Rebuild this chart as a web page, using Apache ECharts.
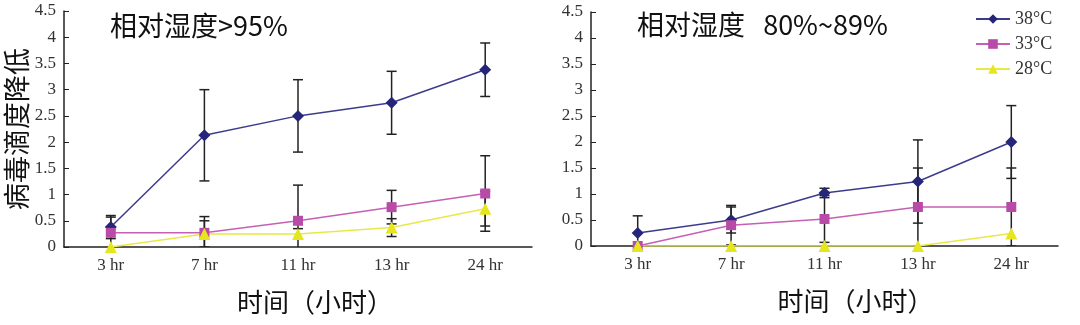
<!DOCTYPE html>
<html><head><meta charset="utf-8">
<script src="https://cdn.jsdelivr.net/npm/echarts@6/dist/echarts.min.js"></script>
<style>html,body{margin:0;padding:0;background:#fff}#c{width:1080px;height:325px}</style>
</head><body><div id="c"></div>
<script>
const categories = ['3 hr', '7 hr', '11 hr', '13 hr', '24 hr'];
const yTicks = [0, 0.5, 1, 1.5, 2, 2.5, 3, 3.5, 4, 4.5];
const seriesNames = ['38°C', '33°C', '28°C'];
const titleLeft = '相对湿度>95%';
const titleRight = '相对湿度   80%~89%';
const yName = '病毒滴度降低';
const xName = '时间（小时）';

// Left panel (RH > 95%)
const left38 = [0.38, 2.13, 2.5, 2.75, 3.38];
const left38Err = [0.22, 0.87, 0.69, 0.6, 0.51];
const left33 = [0.27, 0.27, 0.5, 0.76, 1.02];
const left33Err = [0.3, 0.31, 0.68, 0.32, 0.72];
const left28 = [0, 0.25, 0.25, 0.37, 0.73];
const left28Err = [0, 0.25, 0.1, 0.17, 0.33];

// Right panel (RH 80%~89%)
const right38 = [0.25, 0.5, 1.02, 1.24, 2.0];
const right38Err = [0.33, 0.25, 0.09, 0.8, 0.7];
const right33 = [0, 0.4, 0.52, 0.75, 0.75];
const right33Err = [0, 0.38, 0.45, 0.75, 0.75];
const right28 = [0, 0, 0, 0, 0.24];
const right28Err = [0, 0, 0, 0, 0];

const colors = ['#25257a', '#b84aa8', '#e6e61e'];
const lineColors = ['#3c3c8c', '#c560b5', '#e8e84a'];
const symbols = ['diamond', 'rect', 'triangle'];
const symbolSizes = [12, 10, 12];

const serif = '"Liberation Serif", "DejaVu Serif", serif';
const cjk = '"Noto Sans CJK SC", "Noto Sans", sans-serif';

function lineSeries(idx, grid, data) {
  return {
    name: seriesNames[idx], type: 'line', xAxisIndex: grid, yAxisIndex: grid,
    data: data, symbol: symbols[idx], symbolSize: symbolSizes[idx],
    itemStyle: { color: colors[idx] },
    lineStyle: { color: lineColors[idx], width: 1.5 },
    z: 5, animation: false
  };
}
function errSeries(grid, vals, errs) {
  const d = vals.map((v, i) => [i, v - errs[i], v + errs[i]]).filter(r => r[2] - r[1] > 0);
  return {
    type: 'custom', xAxisIndex: grid, yAxisIndex: grid, data: d, z: 3, clip: true, silent: true,
    renderItem: function (params, api) {
      const x = api.value(0);
      const lo = api.coord([x, api.value(1)]);
      const hi = api.coord([x, api.value(2)]);
      const hw = 5;
      const st = { stroke: '#222', lineWidth: 1.5 };
      return { type: 'group', children: [
        { type: 'line', shape: { x1: lo[0], y1: lo[1], x2: hi[0], y2: hi[1] }, style: st },
        { type: 'line', shape: { x1: hi[0] - hw, y1: hi[1], x2: hi[0] + hw, y2: hi[1] }, style: st },
        { type: 'line', shape: { x1: lo[0] - hw, y1: lo[1], x2: lo[0] + hw, y2: lo[1] }, style: st }
      ]};
    },
    animation: false
  };
}
function xAxis(grid, shift) {
  return {
    type: 'category', gridIndex: grid, data: categories, boundaryGap: true,
    axisLine: { lineStyle: { color: '#222', width: 1.5 } },
    axisTick: { inside: true, length: 5, lineStyle: { color: '#222' } },
    axisLabel: { fontFamily: serif, fontSize: 17, color: '#333', margin: 10 },
    name: xName, nameLocation: 'middle', nameGap: 42,
    nameTextStyle: { fontFamily: cjk, fontSize: 26, color: '#111', padding: [0, 0, 0, shift] }
  };
}
function yAxis(grid, withName) {
  return {
    type: 'value', gridIndex: grid, min: 0, max: 4.5, interval: 0.5,
    axisLine: { show: true, lineStyle: { color: '#222', width: 1.5 } },
    axisTick: { show: true, inside: true, length: 5, lineStyle: { color: '#222' } },
    splitLine: { show: false },
    axisLabel: { fontFamily: serif, fontSize: 17, color: '#333', margin: 8,
      formatter: v => String(yTicks.find(t => Math.abs(t - v) < 1e-9) ?? v) },
    name: withName ? yName : '', nameLocation: 'middle', nameRotate: 90, nameGap: 34,
    nameTextStyle: { fontFamily: cjk, fontSize: 27, color: '#111' }
  };
}

const chart = echarts.init(document.getElementById('c'), null, { renderer: 'canvas' });
chart.setOption({
  animation: false,
  backgroundColor: '#fff',
  title: [
    { text: titleLeft, left: 105, top: 7, textStyle: { fontFamily: cjk, fontSize: 27, fontWeight: 'normal', color: '#111' } },
    { text: titleRight, left: 632, top: 6, textStyle: { fontFamily: cjk, fontSize: 27, fontWeight: 'normal', color: '#111' } }
  ],
  legend: {
    data: seriesNames, orient: 'vertical', left: 970, top: 5, itemGap: 7,
    itemWidth: 34, itemHeight: 12,
    textStyle: { fontFamily: serif, fontSize: 18, color: '#333' }
  },
  grid: [
    { left: 64, top: 11, width: 468, height: 236 },
    { left: 591, top: 12, width: 467, height: 234 }
  ],
  xAxis: [xAxis(0, 34), xAxis(1, 62)],
  yAxis: [yAxis(0, true), yAxis(1, false)],
  series: [
    errSeries(0, left38, left38Err), errSeries(0, left33, left33Err), errSeries(0, left28, left28Err),
    errSeries(1, right38, right38Err), errSeries(1, right33, right33Err), errSeries(1, right28, right28Err),
    lineSeries(0, 0, left38), lineSeries(1, 0, left33), lineSeries(2, 0, left28),
    lineSeries(0, 1, right38), lineSeries(1, 1, right33), lineSeries(2, 1, right28)
  ]
});
</script></body></html>
